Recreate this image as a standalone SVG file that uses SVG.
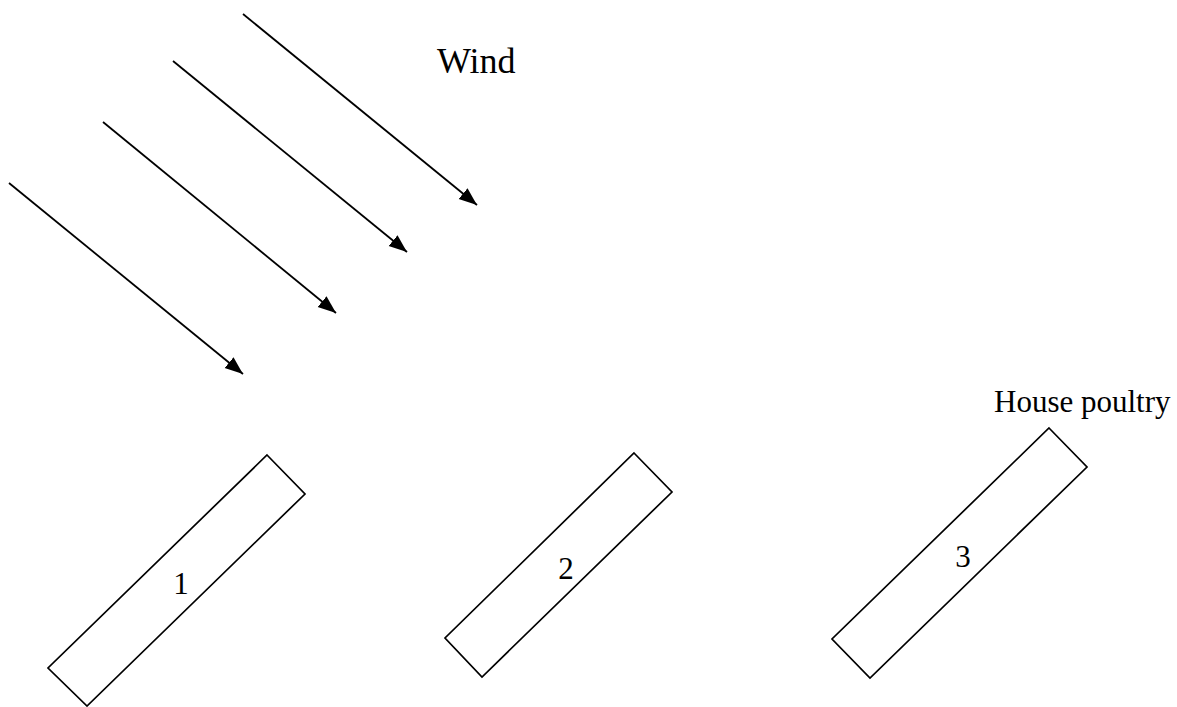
<svg xmlns="http://www.w3.org/2000/svg" width="1177" height="707" viewBox="0 0 1177 707">
<style>
.ln{stroke:#000;stroke-width:1.8;fill:none}
.bx{stroke:#000;stroke-width:1.7;fill:#fff}
.t{font-family:"Liberation Serif","Times New Roman",serif;fill:#000}
</style>
<defs>
<marker id="ah" markerUnits="userSpaceOnUse" markerWidth="19" markerHeight="15" refX="18" refY="7" orient="auto">
<path d="M0,0 L18,7 L0,14 z" fill="#000"/>
</marker>
</defs>
<rect width="1177" height="707" fill="#fff"/>
<g id="connectors">
<line class="ln" x1="243" y1="14" x2="477" y2="205" marker-end="url(#ah)"/>
<line class="ln" x1="173" y1="61" x2="407" y2="252" marker-end="url(#ah)"/>
<line class="ln" x1="103" y1="122" x2="336" y2="313" marker-end="url(#ah)"/>
<line class="ln" x1="9" y1="183" x2="243" y2="374" marker-end="url(#ah)"/>
</g>
<g id="wind-label"><text class="t" x="437" y="73" font-size="36">Wind</text></g>
<g id="house-label"><text class="t" x="994" y="412" font-size="31">House poultry</text></g>
<g id="house1">
<polygon class="bx" points="267,455 305,494 87,706 48,668"/>
<text class="t" x="181" y="594" font-size="31" text-anchor="middle">1</text>
</g>
<g id="house2">
<polygon class="bx" points="634,453 672,492 482,677 445,638"/>
<text class="t" x="566" y="579" font-size="31" text-anchor="middle">2</text>
</g>
<g id="house3">
<polygon class="bx" points="1049,428 1087,467 870,678 832,639"/>
<text class="t" x="963" y="567" font-size="31" text-anchor="middle">3</text>
</g>
</svg>
